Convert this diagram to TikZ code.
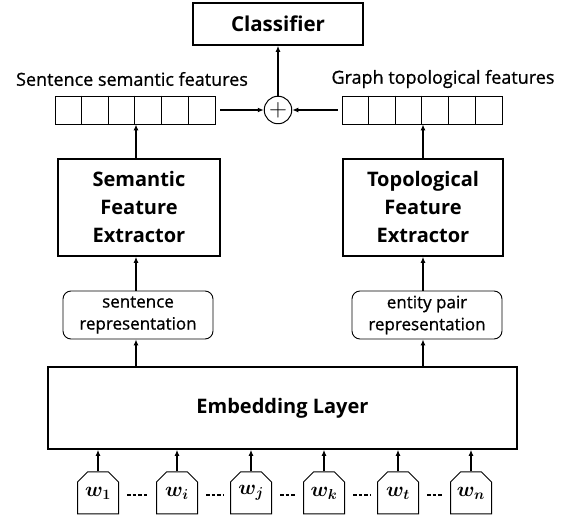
\documentclass[tikz,border=0pt]{standalone}
\usepackage{amsmath, amssymb}
\usepackage{fontspec}
\setmainfont{Open Sans}
\usetikzlibrary{arrows.meta, shapes.misc, positioning}

\tikzset{
    blockbox/.style={draw, line width=1.6pt, align=center, inner sep=0pt,
        font=\bfseries\fontsize{20}{28}\selectfont},
    reprbox/.style={draw, line width=0.9pt, rounded corners=8pt, align=center,
        inner sep=0pt, minimum width=150pt, minimum height=48pt,
        font=\fontsize{17}{22}\selectfont\addfontfeature{FakeBold=0.8}},
    featvec/.style={draw, line width=0.8pt, minimum width=160pt, minimum height=28pt, inner sep=0pt},
    featlabel/.style={font=\fontsize{18}{22}\selectfont\addfontfeature{FakeBold=0.8}},
    wordbox/.style={draw, line width=1pt, chamfered rectangle,
        chamfered rectangle corners={north west, north east},
        chamfered rectangle xsep=5pt, chamfered rectangle ysep=5pt,
        minimum width=41pt, minimum height=42pt, inner sep=0pt,
        font=\fontsize{22}{22}\selectfont},
    flow/.style={-{Latex[length=6pt, width=5pt]}, line width=1.6pt},
    wordgap/.style={line width=1.3pt, dash pattern=on 3.6pt off 2pt, shorten <=8pt, shorten >=7pt}
}

\begin{document}
\begin{tikzpicture}[x=1pt, y=-1pt]
    \useasboundingbox (0,0) rectangle (566,521);

    \node[blockbox, minimum width=170pt, minimum height=42pt, font=\bfseries\fontsize{20.5}{24}\selectfont] (classifier) at (278,24) {Classifier};

    \node[featlabel] (semlabel) at (132,79) {Sentence semantic features};
    \node[featlabel] (toplabel) at (443,79) {Graph topological features};

    \node[featvec] (semvec) at (135,110) {};
    \node[featvec] (topvec) at (422,110) {};
    \foreach \v in {semvec, topvec}
        \foreach \i in {1,...,5}
            \draw[line width=0.8pt] (\v.north west) ++(\i*160/6,0) -- ++(0,28);

    \node[draw, circle, line width=1pt, minimum size=27.5pt, inner sep=0pt,
        font=\fontsize{26}{26}\selectfont] (plus) at (278,110) {$+$};

    \node[blockbox, minimum width=162pt, minimum height=97pt] (semext) at (139,207.5) {Semantic\\Feature\\Extractor};
    \node[blockbox, minimum width=160pt, minimum height=97pt] (topext) at (423,207.5) {Topological\\Feature\\Extractor};

    \node[reprbox] (sentrep) at (138,315) {sentence\\representation};
    \node[reprbox] (pairrep) at (427,315) {entity pair\\representation};

    \node[blockbox, minimum width=469pt, minimum height=82pt] (embed) at (282.5,408) {Embedding Layer};

    \node[wordbox] (w1) at (98,493) {$\boldsymbol{w_1}$};
    \node[wordbox] (wi) at (177,493) {$\boldsymbol{w_i}$};
    \node[wordbox] (wj) at (251,493) {$\boldsymbol{w_j}$};
    \node[wordbox] (wk) at (324,493) {$\boldsymbol{w_k}$};
    \node[wordbox] (wt) at (398,493) {$\boldsymbol{w_t}$};
    \node[wordbox] (wn) at (471,493) {$\boldsymbol{w_n}$};

    \foreach \a/\b in {w1/wi, wi/wj, wj/wk, wk/wt, wt/wn}
        \draw[wordgap] ([yshift=-2pt]\a.east) -- ([yshift=-2pt]\b.west);
    \foreach \w in {w1, wi, wj, wk, wt, wn}
        \draw[flow] (\w.north) -- (\w.north |- embed.south);

    \draw[flow] (sentrep.north |- embed.north) ++(-2,0) coordinate (e1) -- (e1 |- sentrep.south);
    \draw[flow] (pairrep.north |- embed.north) ++(-4,0) coordinate (e2) -- (e2 |- pairrep.south);
    \draw[flow] (e1 |- sentrep.north) -- (e1 |- semext.south);
    \draw[flow] (e2 |- pairrep.north) -- (e2 |- topext.south);
    \draw[flow] (e1 |- semext.north) -- (e1 |- semvec.south);
    \draw[flow] (e2 |- topext.north) -- (e2 |- topvec.south);

    \draw[flow] ([xshift=5pt]semvec.east) -- (plus.west);
    \draw[flow] ([xshift=-4pt]topvec.west) -- (plus.east);
    \draw[flow] (plus.north) -- (classifier.south);
\end{tikzpicture}
\end{document}
